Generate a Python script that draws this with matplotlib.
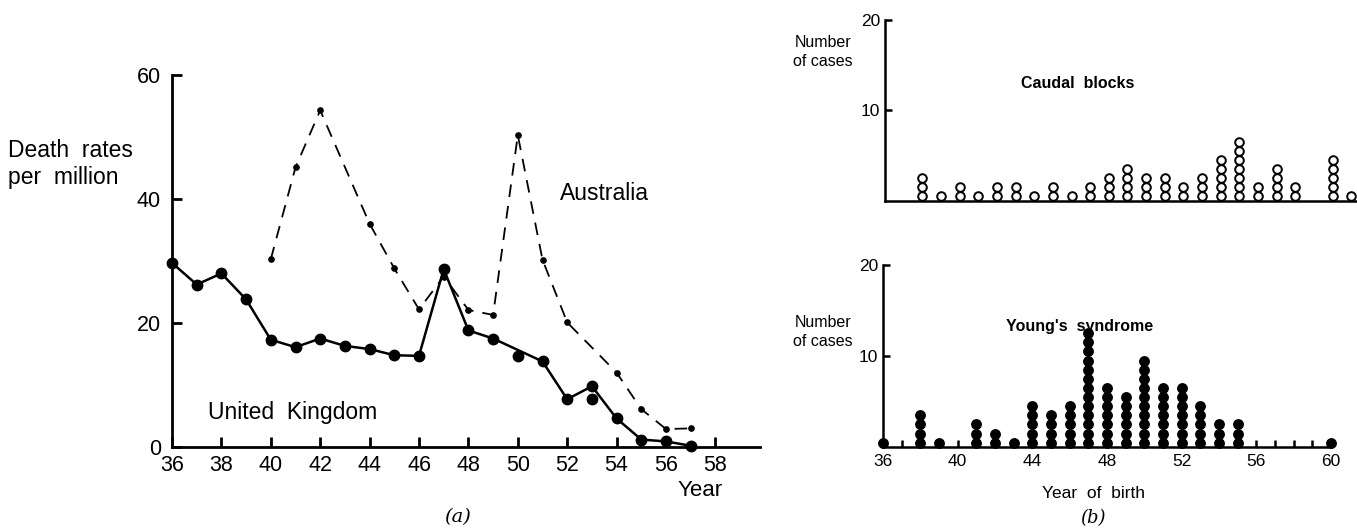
import numpy as np
import matplotlib
matplotlib.use("Agg")
import matplotlib.pyplot as plt

plt.rcParams['font.family'] = ['Liberation Sans', 'DejaVu Sans']

# (a) death rates per million
uk_years = [36, 37, 38, 39, 40, 41, 42, 43, 44, 45, 46, 47, 48, 49, 51, 52, 53, 54, 55, 56, 57]
uk_rates = [29.7, 26.2, 28.0, 23.8, 17.3, 16.1, 17.5, 16.3, 15.8, 14.8, 14.7, 28.7, 18.8, 17.5,
            13.8, 7.7, 9.8, 4.6, 1.2, 0.9, 0.2]
uk_extra_years = [50, 53]
uk_extra_rates = [14.7, 7.7]

aus_years = [40, 41, 42, 44, 45, 46, 47, 48, 49, 50, 51, 52, 54, 55, 56, 57]
aus_rates = [30.3, 45.1, 54.3, 36.0, 28.8, 22.2, 27.5, 22.1, 21.3, 50.3, 30.2, 20.1, 12.0, 6.1, 2.9, 3.0]

# (b) number of cases by year of birth
caudal_years = [38, 39, 40, 41, 42, 43, 44, 45, 46, 47, 48, 49, 50, 51, 52, 53, 54, 55, 56, 57, 58, 60, 61]
caudal_counts = [3, 1, 2, 1, 2, 2, 1, 2, 1, 2, 3, 4, 3, 3, 2, 3, 5, 7, 2, 4, 2, 5, 1]

young_years = [36, 38, 39, 41, 42, 43, 44, 45, 46, 47, 48, 49, 50, 51, 52, 53, 54, 55, 60]
young_counts = [1, 4, 1, 3, 2, 1, 5, 4, 5, 13, 7, 6, 10, 7, 7, 5, 3, 3, 1]

W, H = 1357, 531
fig = plt.figure(figsize=(W / 100, H / 100), dpi=100)


def px(x, y):
    return x / W, 1 - y / H


def style_axes(ax, lw, ticksize, ticklen):
    for s in ['top', 'right']:
        ax.spines[s].set_visible(False)
    for s in ['left', 'bottom']:
        ax.spines[s].set_linewidth(lw)
    ax.tick_params(direction='in', width=lw, length=ticklen, labelsize=ticksize)


# ---- panel (a) ----
ax = fig.add_axes([172 / W, 1 - 447 / H, 588 / W, 372 / H])
style_axes(ax, 2.0, 15.5, 7)
ax.plot(aus_years, aus_rates, color='black', lw=1.3, ls=(0, (7, 5)),
        marker='o', ms=3.8, clip_on=False)
ax.plot(uk_years, uk_rates, color='black', lw=1.8, marker='o', ms=7.5, clip_on=False)
ax.plot(uk_extra_years, uk_extra_rates, 'o', color='black', ms=7.5, clip_on=False)
ax.set_xlim(36, 36 + 588 / 24.7)
ax.set_ylim(0, 60)
ax.set_xticks(range(36, 59, 2))
ax.set_yticks([0, 20, 40, 60])
ax.tick_params(axis='y', pad=8)
ax.tick_params(axis='x', pad=6)

fig.text(*px(8, 164), 'Death  rates\nper  million', fontsize=16.5, va='center', ha='left',
         linespacing=1.2)
fig.text(*px(560, 193), 'Australia', fontsize=16.5, va='center', ha='left')
fig.text(*px(208, 412), 'United  Kingdom', fontsize=16.5, va='center', ha='left')
fig.text(*px(700, 490), 'Year', fontsize=16, va='center', ha='center')
fig.text(*px(458, 517), '(a)', fontsize=14, va='center', ha='center',
         family='DejaVu Serif', style='italic')


def stack(years, counts):
    xs = np.repeat(years, counts)
    ys = np.concatenate([np.arange(c) + 0.5 for c in counts])
    return xs, ys


# ---- panel (b) top: caudal blocks ----
ax1 = fig.add_axes([885 / W, 1 - 200.5 / H, 472 / W, 181 / H])
style_axes(ax1, 1.8, 12.5, 5)
ax1.set_xlim(36, 36 + 472 / 18.65)
ax1.set_ylim(0, 20)
ax1.set_xticks([])
ax1.set_yticks([10, 20])
cx, cy = stack(caudal_years, caudal_counts)
ax1.plot(cx, cy, 'o', mfc='white', mec='black', mew=1.4, ms=6.2, clip_on=False)
fig.text(*px(1078, 84), 'Caudal  blocks', fontsize=11.5, fontweight='bold',
         ha='center', va='center')
fig.text(*px(823, 52), 'Number\nof cases', fontsize=11.5, ha='center', va='center',
         linespacing=1.3)

# ---- panel (b) bottom: Young's syndrome ----
ax2 = fig.add_axes([883 / W, 1 - 447.3 / H, 448 / W, 182.6 / H])
style_axes(ax2, 1.8, 12.5, 5)
ax2.set_xlim(36, 60)
ax2.set_ylim(0, 20)
ax2.set_xticks(range(36, 61))
ax2.set_xticklabels([str(y) if (y - 36) % 4 == 0 else '' for y in range(36, 61)])
ax2.set_yticks([10, 20])
ax2.tick_params(axis='x', pad=5)
yx, yy = stack(young_years, young_counts)
ax2.plot(yx, yy, 'o', color='black', ms=6.8, clip_on=False)
fig.text(*px(1080, 326), "Young's  syndrome", fontsize=11.5, fontweight='bold',
         ha='center', va='center')
fig.text(*px(823, 332), 'Number\nof cases', fontsize=11.5, ha='center', va='center',
         linespacing=1.3)
fig.text(*px(1093, 493), 'Year  of  birth', fontsize=12.5, ha='center', va='center')
fig.text(*px(1093, 518), '(b)', fontsize=13, ha='center', va='center',
         family='DejaVu Serif', style='italic')

fig.savefig('out.png', dpi=100)
